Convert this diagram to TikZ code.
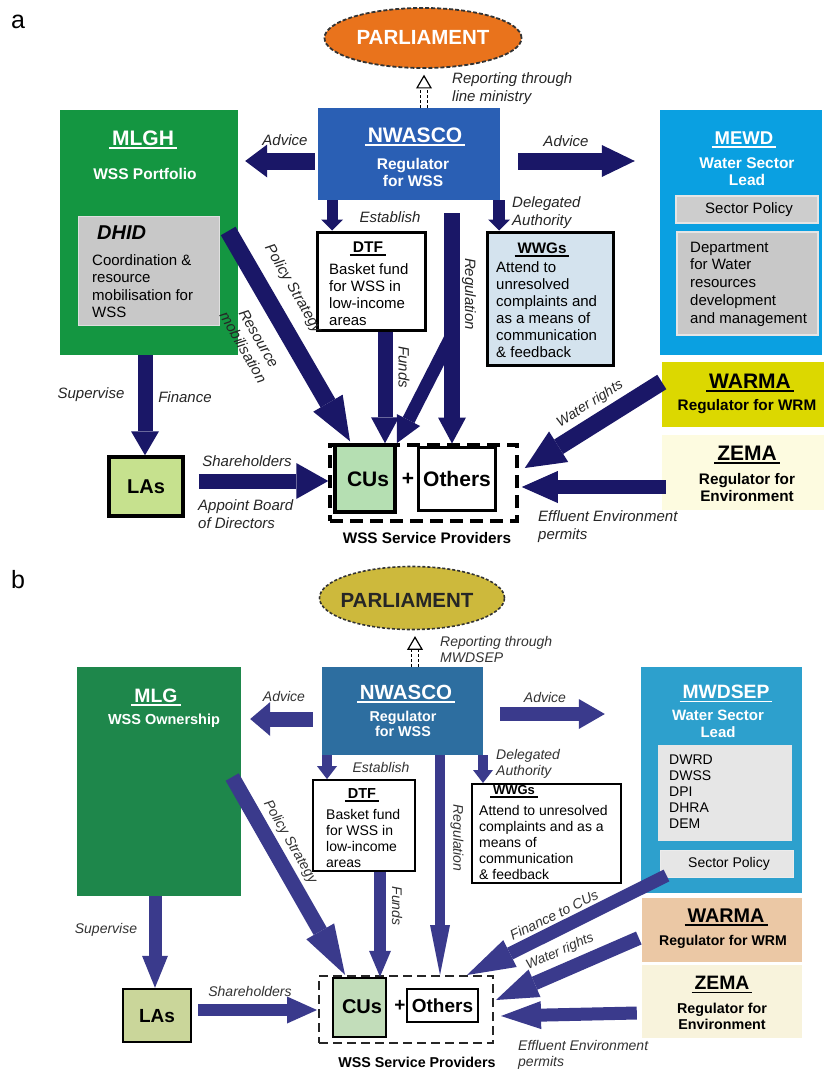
\documentclass[tikz,border=0pt]{standalone}
\usepackage{fontspec}
\setmainfont{Liberation Sans}
\usetikzlibrary{arrows.meta,calc,shapes.geometric}
\definecolor{arrA}{HTML}{1A1767}
\definecolor{arrB}{HTML}{3A3A8C}
\definecolor{grnA}{HTML}{149641}
\definecolor{bluA}{HTML}{2A5FB4}
\definecolor{skyA}{HTML}{0AA0E1}
\definecolor{orgA}{HTML}{E9731C}
\definecolor{ylwA}{HTML}{DCD800}
\definecolor{zemA}{HTML}{FDFBE0}
\definecolor{gryA}{HTML}{C8C8C8}
\definecolor{wwgA}{HTML}{D4E3EE}
\definecolor{lasA}{HTML}{C6E18E}
\definecolor{cusA}{HTML}{B5DFB2}
\definecolor{grnB}{HTML}{1E874B}
\definecolor{bluB}{HTML}{2D6EA0}
\definecolor{skyB}{HTML}{2DA0CD}
\definecolor{olvB}{HTML}{CDB93C}
\definecolor{tanB}{HTML}{EBC8A5}
\definecolor{zemB}{HTML}{F8F3DC}
\definecolor{gryB}{HTML}{E6E6E6}
\definecolor{lasB}{HTML}{CAD69A}
\definecolor{cusB}{HTML}{C2DDBA}
\newcommand\FS[2]{\fontsize{#1}{#2}\selectfont}
\newcommand\hul[1]{\leavevmode\setbox0\hbox{#1}\rlap{\kern-3pt\rule[-3.5pt]{\dimexpr\wd0+6pt\relax}{1.8pt}}\box0}
\tikzset{
  bx/.style 2 args={rectangle, inner sep=0pt, minimum width=#1pt, minimum height=#2pt},
  fat/.style n args={3}{line width=#1pt, -{Triangle[width=#2pt,length=#3pt,line width=0pt]}},
  arA/.style={color=arrA},
  arB/.style={color=arrB},
  lab/.style={font=\FS{15}{18}\itshape, inner sep=0pt, text=black!85},
  labB/.style={font=\FS{14}{16}\itshape, inner sep=0pt, text=black!80},
  rep/.style={line width=1.4pt, dash pattern=on 3pt off 2pt},
  rephead/.style={line width=1.2pt, fill=white, line join=miter},
  tx/.style={inner sep=0pt},
}
\begin{document}
\begin{tikzpicture}[x=1pt,y=-1pt]
\fill[white] (0,0) rectangle (824,1070);
\useasboundingbox (0,0) rectangle (824,1070);

%================ PANEL A =================
\node[tx, font=\FS{25}{30}] (la) at (18,22) {a};
\node[ellipse, fill=orgA, draw=black!80, line width=1.8pt, dash pattern=on 4pt off 2pt, minimum width=197pt, minimum height=60pt, inner sep=0pt] (parl) at (423,38) {};
\node[bx={178}{245}, fill=grnA] (mlgh) at (149,232.5) {};
\node[bx={141}{109}, fill=gryA, draw=gray!25, line width=1pt] (dhid) at (148.5,270.5) {};
\node[bx={182}{92}, fill=bluA] (nwa) at (409,154) {};
\node[bx={162}{245}, fill=skyA] (mewd) at (741,232.5) {};
\node[bx={142}{27}, fill=gryA!90, draw=gray!20, line width=1.5pt] (spA) at (747,209.5) {};
\node[bx={141}{103}, fill=gryA, draw=gray!20, line width=1.5pt] (dept) at (747.5,283.5) {};
\node[bx={162}{65}, fill=ylwA] (warma) at (743,394.5) {};
\node[bx={162}{75}, fill=zemA] (zema) at (743,472.5) {};
\node[bx={108}{98}, fill=white, draw=black, line width=3pt] (dtf) at (371,281) {};
\node[bx={126}{133}, fill=wwgA, draw=black, line width=3pt] (wwg) at (550,298.5) {};
\node[bx={74}{59}, fill=lasA, draw=black, line width=3.5pt] (las) at (146,486.5) {};
\node[bx={187}{76}, draw=black, line width=3.5pt, dash pattern=on 13pt off 7pt] (grp) at (423.5,483) {};
\node[bx={60}{67}, fill=cusA, draw=black, line width=3.5pt] (cus) at (365,478.5) {};
\node[bx={77}{63}, fill=white, draw=black, line width=3pt] (oth) at (456.5,478.5) {};

% reporting arrow a
\draw[rep] ($(nwa.north)+(11.5,0)$) -- ($(parl.south)+(-2.5,18)$);
\draw[rep] ($(nwa.north)+(18.5,0)$) -- ($(parl.south)+(4.5,18)$);
\draw[rephead] ($(parl.south)+(-6,19)$) -- ($(parl.south)+(1,7)$) -- ($(parl.south)+(8,19)$) -- cycle;

% arrows a
\draw[arA, fat={17}{33}{22}] ($(nwa.west)+(-3,7)$) -- ($(mlgh.east)+(7,-71.5)$);
\draw[arA, fat={17}{32}{33}] ($(nwa.east)+(18,7)$) -- ($(mewd.west)+(-25,-71.5)$);
\draw[arA, fat={11}{22}{11}] ($(nwa.south)+(-77,0)$) -- ($(dtf.north)+(-39,0)$);
\draw[arA, fat={12}{22}{11}] ($(nwa.south)+(90,0)$) -- ($(wwg.north)+(-51,0)$);
\draw[arA, fat={16}{28}{26}] ($(nwa.south)+(43,13)$) -- ($(oth.north)+(-4.5,-2)$);
\coordinate (regA) at (452,335);
\draw[arA, fat={13}{26}{26}] (regA) -- (cus.north east);
\draw[arA, fat={15}{28}{26}] ($(dtf.south)+(14,0)$) -- ($(cus.north)+(20,0)$);
\draw[arA, fat={17}{34}{44}] ($(mlgh.east)+(-10,-1.5)$) -- ($(cus.north)+(-15,-2)$);
\draw[arA, fat={15}{28}{24}] ($(mlgh.south)+(-4,0)$) -- ($(las.north)+(-1,0)$);
\draw[arA, fat={15}{36}{32}] ($(las.east)+(14,-5.5)$) -- ($(grp.west)+(0,-2)$);
\draw[arA, fat={17}{36}{40}] ($(warma.west)+(0,-12.5)$) -- ($(grp.east)+(6,-15)$);
\draw[arA, fat={14}{32}{36}] ($(zema.west)+(4,14.5)$) -- ($(grp.east)+(3,4)$);

% texts a
\node[tx, font=\FS{20.5}{24}\bfseries, text=white] (parlT) at (423,37) {PARLIAMENT};
\node[tx, font=\FS{21}{25}\bfseries, text=white] (mlghT) at (143,140) {\hul{MLGH}};
\node[tx, font=\FS{15.5}{18}\bfseries, text=white] (mlghS) at (145,174) {WSS Portfolio};
\node[tx, font=\FS{20}{24}\bfseries\itshape, anchor=west] (dhidT) at (97,233) {DHID};
\node[tx, font=\FS{15}{17.5}, align=left, anchor=west] (dhidB) at (92,286) {Coordination \&\\resource\\mobilisation for\\WSS};
\node[tx, font=\FS{21}{25}\bfseries, text=white] (nwaT) at (415,137) {\hul{NWASCO}};
\node[tx, font=\FS{15.5}{17}\bfseries, text=white, align=center] (nwaS) at (413,172) {Regulator\\for WSS};
\node[lab, anchor=west, align=left] (repT) at (452,89) {Reporting through\\line ministry};
\node[lab] (advLa) at (285,140) {Advice};
\node[lab] (advRa) at (566,141) {Advice};
\node[tx, font=\FS{18.5}{22}\bfseries, text=white] (mewdT) at (744,140) {\hul{MEWD}};
\node[tx, font=\FS{15.5}{17}\bfseries, text=white, align=center] (mewdS) at (747,171.5) {Water Sector\\Lead};
\node[tx, font=\FS{15}{18}] (spAT) at (749,210) {Sector Policy};
\node[tx, font=\FS{15}{17.8}, align=left, anchor=west] (deptT) at (690,284) {Department\\for Water\\resources\\development\\and management};
\node[tx, font=\FS{21}{25}\bfseries] (warmaT) at (750,383) {\hul{WARMA}};
\node[tx, font=\FS{15.3}{18}\bfseries] (warmaS) at (747,407) {Regulator for WRM};
\node[tx, font=\FS{21}{25}\bfseries] (zemaT) at (747,455) {\hul{ZEMA}};
\node[tx, font=\FS{15.3}{17}\bfseries, align=center] (zemaS) at (747,487.5) {Regulator for\\Environment};
\node[tx, font=\FS{15.5}{18}\bfseries] (dtfT) at (368,249) {\hul{DTF}};
\node[tx, font=\FS{15}{17}, align=left, anchor=west] (dtfB) at (329,295) {Basket fund\\for WSS in\\low-income\\areas};
\node[lab] (estA) at (390,217) {Establish};
\node[tx, font=\FS{15.2}{18}\bfseries] (wwgT) at (542,250) {\hul{WWGs}};
\node[tx, font=\FS{15}{17}, align=left, anchor=west] (wwgB) at (496,309.5) {Attend to\\unresolved\\complaints and\\as a means of\\communication\\\& feedback};
\node[lab, anchor=west, align=left] (delA) at (512,213) {Delegated\\Authority};
\node[lab, rotate=-90] (regAT) at (469,294) {Regulation};
\node[lab, rotate=-90] (fundA) at (404,367) {Funds};
\node[lab, rotate=-60] (polA) at (293,289) {Policy Strategy};
\node[lab, rotate=-60, align=center] (resA) at (251,343) {Resource\\mobilisation};
\node[lab] (supA) at (91,395) {Supervise};
\node[lab] (finA) at (185,397) {Finance};
\node[tx, font=\FS{20}{24}\bfseries] (lasT) at (146,487) {LAs};
\node[lab] (shA) at (247,461) {Shareholders};
\node[lab, anchor=west, align=left] (apA) at (198,514) {Appoint Board\\of Directors};
\node[tx, font=\FS{21}{25}\bfseries] (cusT) at (368,479) {CUs};
\node[tx, font=\FS{21}{25}\bfseries] (plusA) at (408,479) {+};
\node[tx, font=\FS{21}{25}\bfseries] (othT) at (457,479) {Others};
\node[tx, font=\FS{15.3}{18}\bfseries] (wspA) at (427,538) {WSS Service Providers};
\node[lab, font=\FS{14}{16}\itshape, rotate=32] (wrA) at (590,404) {Water rights};
\node[lab, anchor=west, align=left] (efA) at (538,527) {Effluent Environment\\permits};

%================ PANEL B =================
\node[tx, font=\FS{25}{30}] (lb) at (18,580) {b};
\node[ellipse, fill=olvB, draw=black!80, line width=1.6pt, dash pattern=on 3pt off 2pt, minimum width=185pt, minimum height=63pt, inner sep=0pt] (parlB) at (412,598) {};
\node[bx={164}{229}, fill=grnB] (mlg) at (159,781.5) {};
\node[bx={161}{88}, fill=bluB] (nwaB) at (402.5,711) {};
\node[bx={161}{226}, fill=skyB] (mwd) at (721.5,780) {};
\node[bx={134}{96}, fill=gryB] (lst) at (725,793) {};
\node[bx={133}{27}, fill=gryB, draw=gray!15, line width=1pt] (spB) at (726.5,863.5) {};
\node[bx={160}{64}, fill=tanB] (warmaB) at (722,930) {};
\node[bx={160}{73}, fill=zemB] (zemaB) at (722,1001.5) {};
\node[bx={102}{91}, fill=white, draw=black, line width=1.8pt] (dtfB) at (364,825.5) {};
\node[bx={149}{99}, fill=white, draw=black, line width=2pt] (wwgB) at (546.5,833.5) {};
\node[bx={68}{53}, fill=lasB, draw=black, line width=2.5pt] (lasB) at (157,1015.5) {};
\node[bx={174}{67}, draw=black!85, line width=2pt, dash pattern=on 9pt off 5pt] (grpB) at (406,1009.5) {};
\node[bx={53}{59}, fill=cusB, draw=black, line width=2.5pt] (cusB) at (359.5,1007.5) {};
\node[bx={71}{33}, fill=white, draw=black, line width=1.6pt] (othB) at (442.5,1005.5) {};

% reporting arrow b
\draw[rep] ($(nwaB.north)+(9,0)$) -- ($(parlB.south)+(-0.5,18)$);
\draw[rep] ($(nwaB.north)+(16,0)$) -- ($(parlB.south)+(6.5,18)$);
\draw[rephead] ($(parlB.south)+(-4,19)$) -- ($(parlB.south)+(3,7)$) -- ($(parlB.south)+(10,19)$) -- cycle;

% arrows b
\draw[arB, fat={15}{34}{20}] ($(nwaB.west)+(-9,8)$) -- ($(mlg.east)+(9,-62.5)$);
\draw[arB, fat={14}{30}{26}] ($(nwaB.east)+(17,3)$) -- ($(mwd.west)+(-36,-66)$);
\draw[arB, fat={10}{20}{13}] ($(nwaB.south)+(-75.5,0)$) -- ($(dtfB.north)+(-37,0)$);
\draw[arB, fat={10}{20}{13}] ($(nwaB.south)+(80.5,0)$) -- ($(wwgB.north)+(-63.5,0)$);
\draw[arB, fat={10}{20}{50}] ($(nwaB.south)+(37.5,0)$) -- ($(grpB.north)+(34,0)$);
\draw[arB, fat={12}{22}{26}] ($(dtfB.south)+(16,0)$) -- ($(cusB.north)+(20.5,0)$);
\draw[arB, fat={15}{32}{50}] ($(mlg.east)+(-9,-4.5)$) -- ($(cusB.north)+(-14.5,-2)$);
\draw[arB, fat={13}{26}{32}] ($(mlg.south)+(-4,0)$) -- ($(lasB.north)+(-2,0)$);
\draw[arB, fat={12}{27}{30}] ($(lasB.east)+(6,-5.5)$) -- ($(grpB.west)+(-1,0.5)$);
\draw[arB, fat={13}{30}{48}] ($(spB.south west)+(7,-2)$) -- ($(grpB.north)+(61,0)$);
\draw[arB, fat={14}{30}{42}] ($(warmaB.west)+(-3,8)$) -- ($(grpB.east)+(2,-9.5)$);
\draw[arB, fat={13}{28}{40}] ($(zemaB.west)+(-5,11.5)$) -- ($(grpB.east)+(7,6.5)$);

% texts b
\node[tx, font=\FS{20.5}{24}\bfseries, text=black!85] (parlBT) at (407,600) {PARLIAMENT};
\node[labB, anchor=west, align=left] (repB) at (440,649) {Reporting through\\MWDSEP};
\node[tx, font=\FS{20.5}{24}\bfseries, text=white] (nwaBT) at (406,694) {\hul{NWASCO}};
\node[tx, font=\FS{14.3}{15.5}\bfseries, text=white, align=center] (nwaBS) at (403,724) {Regulator\\for WSS};
\node[tx, font=\FS{19.4}{23}\bfseries, text=white] (mlgT) at (156,697) {\hul{MLG}};
\node[tx, font=\FS{14.5}{17}\bfseries, text=white] (mlgS) at (164,721) {WSS Ownership};
\node[labB] (advLb) at (284,696) {Advice};
\node[labB] (advRb) at (545,697) {Advice};
\node[tx, font=\FS{19.3}{23}\bfseries, text=white] (mwdT) at (726,694) {\hul{MWDSEP}};
\node[tx, font=\FS{15}{17}\bfseries, text=white, align=center] (mwdS) at (718,724) {Water Sector\\Lead};
\node[tx, font=\FS{14}{16}, align=left, anchor=west] (lstT) at (669,792) {DWRD\\DWSS\\DPI\\DHRA\\DEM};
\node[tx, font=\FS{14}{16}] (spBT) at (729,864) {Sector Policy};
\node[tx, font=\FS{19.8}{23}\bfseries] (warmaBT) at (726,917) {\hul{WARMA}};
\node[tx, font=\FS{14.1}{17}\bfseries] (warmaBS) at (723,942) {Regulator for WRM};
\node[tx, font=\FS{19.4}{23}\bfseries] (zemaBT) at (722,985) {\hul{ZEMA}};
\node[tx, font=\FS{14.3}{16}\bfseries, align=center] (zemaBS) at (722,1016) {Regulator for\\Environment};
\node[tx, font=\FS{14.5}{17}\bfseries] (dtfBT) at (362,795) {\hul{DTF}};
\node[tx, font=\FS{14}{16}, align=left, anchor=west] (dtfBB) at (326,838.5) {Basket fund\\for WSS in\\low-income\\areas};
\node[labB] (estB) at (381,767) {Establish};
\node[tx, font=\FS{13}{16}\bfseries] (wwgBT) at (514,792) {\hul{WWGs}};
\node[tx, font=\FS{14}{16.2}, align=left, anchor=west] (wwgBB) at (479,842.5) {Attend to unresolved\\complaints and as a\\means of\\communication\\\& feedback};
\node[labB, anchor=west, align=left] (delB) at (496,764) {Delegated\\Authority};
\node[labB, rotate=-90] (regBT) at (457,838) {Regulation};
\node[labB, rotate=-90] (fundB) at (397,906) {Funds};
\node[labB, rotate=-60] (polB) at (290,842) {Policy Strategy};
\node[labB] (supB) at (106,930) {Supervise};
\node[tx, font=\FS{19}{23}\bfseries] (lasBT) at (157,1016) {LAs};
\node[labB] (shB) at (250,991) {Shareholders};
\node[tx, font=\FS{20}{24}\bfseries] (cusBT) at (362,1007) {CUs};
\node[tx, font=\FS{19}{23}\bfseries] (plusB) at (400,1006) {+};
\node[tx, font=\FS{19}{23}\bfseries] (othBT) at (442.5,1006) {Others};
\node[tx, font=\FS{14.3}{17}\bfseries] (wspB) at (417,1062) {WSS Service Providers};
\node[labB, rotate=26] (finB) at (554,915) {Finance to CUs};
\node[labB, font=\FS{13.5}{16}\itshape, rotate=24] (wrB) at (560,952) {Water rights};
\node[labB, anchor=west, align=left] (efB) at (518,1055) {Effluent Environment\\permits};
\end{tikzpicture}
\end{document}
